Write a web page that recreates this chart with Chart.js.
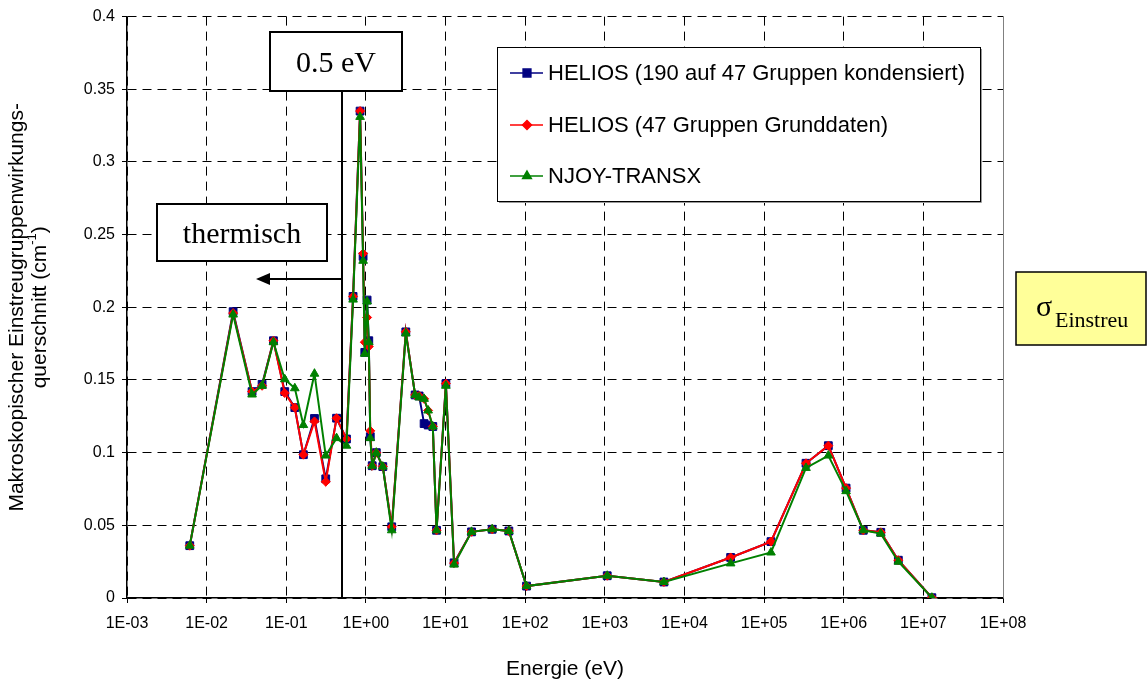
<!DOCTYPE html>
<html>
<head>
<meta charset="utf-8">
<script src="https://cdn.jsdelivr.net/npm/chart.js@4.4.1/dist/chart.umd.min.js"></script>
<style>
  html, body { margin: 0; padding: 0; background: #fff; }
  #wrap { width: 1148px; height: 686px; }
</style>
</head>
<body>
<div id="wrap"><canvas id="chart" width="1148" height="686"></canvas></div>
<script>
//-----------------------------------------------------------------------------
// Data (energy in eV, cross sections in 1/cm)
//-----------------------------------------------------------------------------

var energies = [0.00614, 0.0215, 0.0372, 0.0497, 0.069, 0.0957, 0.128, 0.164, 0.226, 0.313,
  0.428, 0.570, 0.690, 0.845, 0.922, 0.968, 1.035, 1.087, 1.135, 1.20,
  1.35, 1.63, 2.11, 3.17, 4.15, 4.66, 5.38, 6.04, 6.92, 7.71,
  10.1, 12.8, 21.2, 38.5, 62.4, 104, 1072, 5520, 38000, 122000,
  336000, 641000, 1.07e6, 1.76e6, 2.92e6, 4.85e6, 1.28e7];

var heliosCondensed = [0.036, 0.197, 0.142, 0.147, 0.177, 0.142, 0.131, 0.0986, 0.1235, 0.082,
  0.1237, 0.1094, 0.2075, 0.335, 0.235, 0.169, 0.205, 0.177, 0.111, 0.091,
  0.100, 0.0904, 0.049, 0.1831, 0.1397, 0.139, 0.120, 0.119, 0.118, 0.0466,
  0.1475, 0.0242, 0.0455, 0.0473, 0.0461, 0.0082, 0.0153, 0.011, 0.0279, 0.0388,
  0.0927, 0.1048, 0.0756, 0.0466, 0.0452, 0.026, 0.0002];

var heliosBase = [0.036, 0.196, 0.142, 0.146, 0.177, 0.141, 0.131, 0.0986, 0.1215, 0.080,
  0.1237, 0.1094, 0.2075, 0.335, 0.237, 0.176, 0.193, 0.173, 0.115, 0.091,
  0.100, 0.0904, 0.049, 0.1831, 0.1397, 0.139, 0.137, 0.129, 0.118, 0.0466,
  0.1475, 0.024, 0.0455, 0.0473, 0.0461, 0.0082, 0.0153, 0.011, 0.0279, 0.0388,
  0.0927, 0.1048, 0.0756, 0.0466, 0.0452, 0.026, 0.0002];

var njoyTransx = [0.036, 0.195, 0.140, 0.146, 0.176, 0.1505, 0.1443, 0.119, 0.1543, 0.098,
  0.110, 0.1048, 0.2053, 0.331, 0.232, 0.168, 0.204, 0.176, 0.110, 0.091,
  0.100, 0.0904, 0.0466, 0.182, 0.1397, 0.138, 0.137, 0.129, 0.118, 0.0466,
  0.146, 0.023, 0.0455, 0.0473, 0.0461, 0.0082, 0.0153, 0.011, 0.0238, 0.0313,
  0.0895, 0.098, 0.0735, 0.0466, 0.0443, 0.025, 0.0002];

var xTickValues = [1e-3, 1e-2, 1e-1, 1e0, 1e1, 1e2, 1e3, 1e4, 1e5, 1e6, 1e7, 1e8];
var xTickLabels = ['1E-03', '1E-02', '1E-01', '1E+00', '1E+01', '1E+02', '1E+03', '1E+04', '1E+05', '1E+06', '1E+07', '1E+08'];
var yTickValues = [0, 0.05, 0.1, 0.15, 0.2, 0.25, 0.3, 0.35, 0.4];
var yTickLabels = ['0', '0.05', '0.1', '0.15', '0.2', '0.25', '0.3', '0.35', '0.4'];

var seriesNames = ['HELIOS (190 auf 47 Gruppen kondensiert)', 'HELIOS (47 Gruppen Grunddaten)', 'NJOY-TRANSX'];
var thermalLimit = 0.5; // eV

//-----------------------------------------------------------------------------
// Helpers
//-----------------------------------------------------------------------------

function toPoints(ys) {
  return energies.map(function(e, i) { return {x: e, y: ys[i]}; });
}

var SANS = '"Liberation Sans", Arial, sans-serif';
var SERIF = '"Liberation Serif", "Times New Roman", serif';

var styles = [
  {color: '#000080', point: 'rect', radius: 5.5},
  {color: '#ff0000', point: 'rectRot', radius: 4.5},
  {color: '#008000', point: 'triangle', radius: 5}
];

function box(ctx, x, y, w, h, fill, lw) {
  ctx.save();
  ctx.fillStyle = fill;
  ctx.fillRect(x, y, w, h);
  ctx.lineWidth = lw;
  ctx.strokeStyle = '#000';
  ctx.strokeRect(x, y, w, h);
  ctx.restore();
}

function marker(ctx, style, x, y) {
  Chart.helpers.drawPoint(ctx, {pointStyle: style.point, radius: style.radius, borderWidth: 1, rotation: 0}, x, y);
}

//-----------------------------------------------------------------------------
// Overlay: annotations, legend, axis titles
//-----------------------------------------------------------------------------

var overlay = {
  id: 'overlay',
  afterDraw: function(chart) {
    var ctx = chart.ctx;
    var area = chart.chartArea;
    var xs = chart.scales.x;

    // right border of plot area
    ctx.save();
    ctx.strokeStyle = '#808080';
    ctx.lineWidth = 1;
    ctx.beginPath();
    ctx.moveTo(area.right + 0.5, area.top);
    ctx.lineTo(area.right + 0.5, area.bottom);
    ctx.stroke();
    ctx.restore();

    // 0.5 eV line
    var lx = Math.round(xs.getPixelForValue(thermalLimit));
    ctx.save();
    ctx.strokeStyle = '#000';
    ctx.lineWidth = 2;
    ctx.beginPath();
    ctx.moveTo(lx, 91);
    ctx.lineTo(lx, area.bottom);
    ctx.stroke();

    // arrow to the left
    ctx.beginPath();
    ctx.moveTo(lx, 279);
    ctx.lineTo(268, 279);
    ctx.stroke();
    ctx.fillStyle = '#000';
    ctx.beginPath();
    ctx.moveTo(256, 279);
    ctx.lineTo(270, 273);
    ctx.lineTo(270, 285);
    ctx.closePath();
    ctx.fill();
    ctx.restore();

    box(ctx, 270, 32, 132, 59, '#fff', 2);
    box(ctx, 157, 204, 170, 57, '#fff', 2);

    ctx.save();
    ctx.fillStyle = '#000';
    ctx.textAlign = 'center';
    ctx.textBaseline = 'alphabetic';
    ctx.font = '30px ' + SERIF;
    ctx.fillText('0.5 eV', 336, 72);
    ctx.fillText('thermisch', 242, 243);
    ctx.restore();

    // sigma box
    box(ctx, 1016, 272, 130, 73, '#ffff99', 1.5);
    ctx.save();
    ctx.fillStyle = '#000';
    ctx.textBaseline = 'alphabetic';
    ctx.font = '30px ' + SERIF;
    ctx.fillText('\u03c3', 1036, 316);
    ctx.font = '22px ' + SERIF;
    ctx.fillText('Einstreu', 1055, 327);
    ctx.restore();

    // legend
    ctx.save();
    ctx.fillStyle = '#fff';
    ctx.fillRect(497, 47, 483, 154);
    ctx.strokeStyle = '#000';
    ctx.lineWidth = 1;
    ctx.strokeRect(497.5, 47.5, 483, 154);
    ctx.strokeStyle = '#999';
    ctx.beginPath();
    ctx.moveTo(981.5, 49);
    ctx.lineTo(981.5, 202.5);
    ctx.lineTo(499, 202.5);
    ctx.stroke();
    var rows = [73, 125, 176];
    ctx.font = '22px ' + SANS;
    ctx.textBaseline = 'middle';
    for (var i = 0; i < 3; i++) {
      var s = styles[i];
      ctx.strokeStyle = s.color;
      ctx.fillStyle = s.color;
      ctx.lineWidth = 1.5;
      ctx.beginPath();
      ctx.moveTo(510, rows[i]);
      ctx.lineTo(543, rows[i]);
      ctx.stroke();
      marker(ctx, s, 527, rows[i]);
      ctx.fillStyle = '#000';
      ctx.fillText(seriesNames[i], 548, rows[i] + 1);
    }
    ctx.restore();

    // axis titles
    ctx.save();
    ctx.fillStyle = '#000';
    ctx.font = '21px ' + SANS;
    ctx.textAlign = 'center';
    ctx.textBaseline = 'middle';
    ctx.fillText('Energie (eV)', (area.left + area.right) / 2, 669);

    var cy = (area.top + area.bottom) / 2;
    ctx.translate(17, cy);
    ctx.rotate(-Math.PI / 2);
    ctx.fillText('Makroskopischer Einstreugruppenwirkungs-', 0, 0);

    // second line with superscript
    var a = 'querschnitt (cm', sup = '-1', b = ')';
    ctx.font = '21px ' + SANS;
    var wa = ctx.measureText(a).width, wb = ctx.measureText(b).width;
    ctx.font = '13px ' + SANS;
    var ws = ctx.measureText(sup).width;
    var start = -(wa + ws + wb) / 2;
    ctx.textAlign = 'left';
    ctx.font = '21px ' + SANS;
    ctx.fillText(a, start, 23);
    ctx.font = '13px ' + SANS;
    ctx.fillText(sup, start + wa, 15);
    ctx.font = '21px ' + SANS;
    ctx.fillText(b, start + wa + ws, 23);
    ctx.restore();
  }
};

//-----------------------------------------------------------------------------
// Chart
//-----------------------------------------------------------------------------

var allSeries = [heliosCondensed, heliosBase, njoyTransx];

var datasets = allSeries.map(function(ys, i) {
  var s = styles[i];
  return {
    label: seriesNames[i],
    data: toPoints(ys),
    showLine: true,
    borderColor: s.color,
    backgroundColor: s.color,
    borderWidth: 2,
    pointStyle: s.point,
    pointRadius: s.radius,
    pointBorderWidth: 1,
    pointBackgroundColor: s.color,
    pointBorderColor: s.color,
    tension: 0,
    order: 3 - i // green on top
  };
});

new Chart(document.getElementById('chart'), {
  type: 'scatter',
  data: {datasets: datasets},
  plugins: [overlay],
  options: {
    responsive: false,
    animation: false,
    layout: {padding: {top: 14, right: 145, left: 0, bottom: 0}},
    plugins: {legend: {display: false}, tooltip: {enabled: false}},
    scales: {
      x: {
        type: 'logarithmic',
        min: 1e-3,
        max: 1e8,
        afterBuildTicks: function(s) {
          s.ticks = xTickValues.map(function(v) { return {value: v}; });
        },
        afterFit: function(s) { s.height = 88; },
        ticks: {
          autoSkip: false,
          maxRotation: 0,
          color: '#000',
          padding: 11,
          font: {family: SANS, size: 16},
          callback: function(v) {
            var i = xTickValues.indexOf(v);
            return i >= 0 ? xTickLabels[i] : '';
          }
        },
        grid: {color: '#000', lineWidth: 1, tickLength: 5, tickColor: '#000'},
        border: {display: true, color: '#000', width: 1.5, dash: [9, 6]}
      },
      y: {
        type: 'linear',
        min: 0,
        max: 0.4,
        afterBuildTicks: function(s) {
          s.ticks = yTickValues.map(function(v) { return {value: v}; });
        },
        afterFit: function(s) { s.width = 127; },
        ticks: {
          color: '#000',
          padding: 7,
          font: {family: SANS, size: 16},
          callback: function(v) {
            var i = yTickValues.indexOf(v);
            return i >= 0 ? yTickLabels[i] : '';
          }
        },
        grid: {color: '#000', lineWidth: 1, tickLength: 5, tickColor: '#000'},
        border: {display: true, color: '#000', width: 1.5, dash: [9, 6]}
      }
    }
  }
});
</script>
</body>
</html>
